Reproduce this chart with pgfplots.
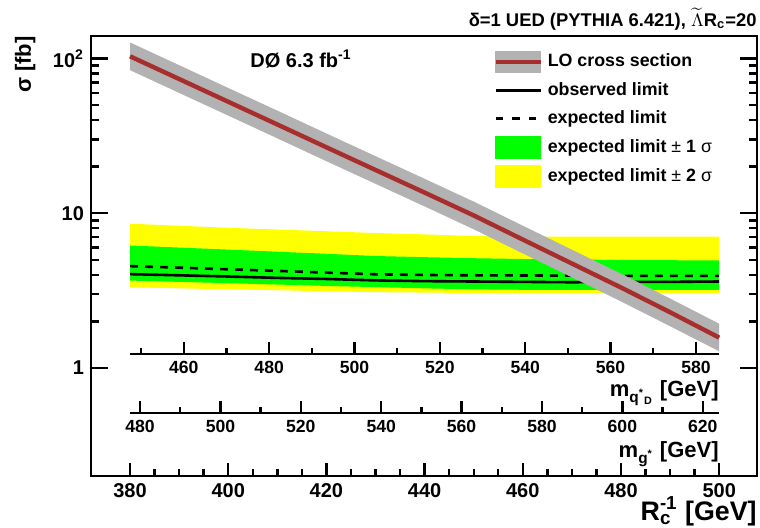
\documentclass[border=0pt]{standalone}
\usepackage{pgfplots}
\pgfplotsset{compat=1.18}
\usepackage{pgfplotstable}
\usetikzlibrary{calc}
\usepackage{fontspec}
\setmainfont{Liberation Sans}

\definecolor{lored}{RGB}{168,45,45}
\definecolor{logray}{RGB}{178,178,178}
\definecolor{onesig}{RGB}{0,255,0}
\definecolor{twosig}{RGB}{255,255,0}

% LO cross section of the UED signal vs 1/R_c
\pgfplotstableread{
R    lo
380  103.5
390  73.8
400  52.6
410  37.5
420  26.7
430  19.05
440  13.6
450  9.68
460  6.76
470  4.73
480  3.31
490  2.29
500  1.57
}\lotable

% observed and expected 95% CL limits
\pgfplotstableread{
R    expl  obsl
380  4.55  4.04
390  4.45  3.97
400  4.34  3.90
410  4.24  3.82
420  4.13  3.76
430  4.03  3.68
440  3.99  3.64
450  3.97  3.62
460  3.96  3.60
470  3.95  3.58
480  3.94  3.60
490  3.94  3.60
500  3.94  3.62
}\limtable

\newcommand{\ptsize}[1]{\fontsize{#1}{1.2\dimexpr#1\relax}\selectfont\bfseries}

\begin{document}
\begin{tikzpicture}
\begin{axis}[
  name=main,
  width=333pt, height=220pt, scale only axis,
  xmin=372.05, xmax=507.7,
  ymode=log, ymin=0.2, ymax=140,
  axis line style={line width=1.2pt},
  tick style={line width=1.2pt, black},
  tick align=inside,
  xtick={380,400,...,500}, minor x tick num=3,
  xtick pos=left, ytick pos=both,
  ytick={1,10,100}, yticklabels={1,10,10\textsuperscript{2}},
  x tick style={/pgfplots/major tick length=6.5pt, /pgfplots/minor tick length=3.5pt},
  y tick style={/pgfplots/major tick length=8.5pt, /pgfplots/minor tick length=4pt},
  /pgf/number format/assume math mode=true,
  /pgf/number format/set thousands separator={},
  every tick label/.append style={font=\ptsize{10pt}},
  xlabel={R\rlap{\textsubscript{c}}\textsuperscript{-1} [GeV]},
  xlabel style={at={(axis description cs:1,0)}, anchor=base east,
    inner sep=0pt, yshift=-22pt, font=\ptsize{13.4pt}},
  ylabel={σ [fb]},
  ylabel style={at={(axis description cs:-0.099,1)}, anchor=east,
    inner sep=0pt, font=\ptsize{11pt}},
  legend style={draw=none, fill=none, at={(axis description cs:0.6036,0.967)},
    anchor=north west, inner sep=0pt, row sep=3.2pt, column sep=2.5pt,
    font=\ptsize{8.9pt}, nodes={inner sep=0pt}},
  legend cell align=left,
]
% +-2 sigma band of the expected limit
\addplot[fill=twosig, draw=none, forget plot] coordinates {
 (380,8.56)(390,8.30)(400,8.05)(410,7.85)(420,7.65)(430,7.45)(440,7.30)
 (450,7.12)(460,7.05)(470,7.05)(480,7.05)(490,7.05)(500,7.05)
 (500,3.04)(490,3.04)(480,3.04)(470,3.04)(460,3.04)(450,3.05)(440,3.07)
 (430,3.09)(420,3.13)(410,3.18)(400,3.22)(390,3.27)(380,3.32)};
% +-1 sigma band of the expected limit
\addplot[fill=onesig, draw=none, forget plot] coordinates {
 (380,6.19)(390,6.00)(400,5.82)(410,5.64)(420,5.47)(430,5.29)(440,5.20)
 (450,5.12)(460,5.06)(470,5.02)(480,4.99)(490,4.97)(500,4.95)
 (500,3.20)(490,3.20)(480,3.20)(470,3.20)(460,3.20)(450,3.22)(440,3.27)
 (430,3.33)(420,3.39)(410,3.46)(400,3.53)(390,3.60)(380,3.67)};
\addplot[black, line width=1.3pt, dash pattern=on 4pt off 3.5pt, forget plot]
  table[x=R, y=expl] {\limtable};
\addplot[black, line width=1.3pt, forget plot] table[x=R, y=obsl] {\limtable};
% theory uncertainty band and central LO prediction
\addplot[fill=logray, draw=none, forget plot] coordinates {
 (380,127.2)(390,90.7)(400,64.6)(410,46.1)(420,32.8)(430,23.4)(440,16.7)
 (450,11.9)(460,8.31)(470,5.81)(480,4.07)(490,2.81)(500,1.93)
 (500,1.28)(490,1.86)(480,2.69)(470,3.85)(460,5.50)(450,7.88)(440,11.07)
 (430,15.5)(420,21.7)(410,30.5)(400,42.8)(390,60.0)(380,84.2)};
\addplot[lored, line width=2.2pt, forget plot] table[x=R, y=lo] {\lotable};

\addlegendimage{legend image code/.code={
  \fill[logray] (0pt,-5.25pt) rectangle (22.5pt,5.25pt);
  \draw[lored, line width=2.2pt] (0pt,0pt) -- (22.5pt,0pt);}}
\addlegendentry{LO cross section}
\addlegendimage{legend image code/.code={
  \path[draw=none, fill=none] (0pt,-5.5pt) rectangle (22.5pt,5.5pt);
  \draw[black, line width=1.4pt] (0pt,0pt) -- (22.5pt,0pt);}}
\addlegendentry{observed limit}
\addlegendimage{legend image code/.code={
  \path[draw=none, fill=none] (0pt,-5.5pt) rectangle (22.5pt,5.5pt);
  \draw[black, line width=1.4pt, dash pattern=on 3.7pt off 4.6pt] (0pt,0pt) -- (22.5pt,0pt);}}
\addlegendentry{expected limit}
\addlegendimage{legend image code/.code={
  \fill[onesig] (0pt,-5.5pt) rectangle (22.5pt,5.5pt);}}
\addlegendentry{expected limit {\mdseries ±} 1 {\mdseries σ}}
\addlegendimage{legend image code/.code={
  \fill[twosig] (0pt,-5.5pt) rectangle (22.5pt,5.5pt);}}
\addlegendentry{expected limit {\mdseries ±} 2 {\mdseries σ}}

\node[anchor=base west, inner sep=0pt, font=\ptsize{10pt}]
  at (axis description cs:0.2387,0.9295) {DØ 6.3 fb\textsuperscript{-1}};
\end{axis}

% model and parameters, above the frame at the right
\node[anchor=base east, inner sep=0pt, font=\ptsize{9.2pt}]
  at ($(main.north east)+(0,5pt)$)
  {δ=1 UED (PYTHIA 6.421), $\widetilde{\Lambda}$R\textsubscript{c}=20};

% secondary scale: excited quark mass
\begin{axis}[
  at={($(main.south west)+(0,60.85pt)$)}, anchor=south west,
  width=333pt, height=20pt, scale only axis,
  xmin=438.26, xmax=594.3, ymin=0, ymax=1,
  hide y axis, axis x line*=bottom, x axis line style={draw=none},
  tick align=inside,
  tick style={line width=1.2pt, black},
  major tick length=6pt, minor tick length=3pt,
  xtick={460,480,...,580}, minor xtick={450,470,...,570},
  /pgf/number format/assume math mode=true,
  every tick label/.append style={font=\ptsize{8.8pt}},
  xlabel={m\textsubscript{q\textsuperscript{*}\textsubscript{D}} [GeV]},
  xlabel style={at={(axis description cs:0.943,0)}, anchor=base east,
    inner sep=0pt, yshift=-21.2pt, font=\ptsize{11pt}},
]
\draw[line width=1.2pt] (axis cs:447.4,0) -- (axis cs:585.4,0);
\end{axis}

% secondary scale: excited gluon mass
\begin{axis}[
  at={($(main.south west)+(0,31.35pt)$)}, anchor=south west,
  width=333pt, height=20pt, scale only axis,
  xmin=467.79, xmax=633.5, ymin=0, ymax=1,
  hide y axis, axis x line*=bottom, x axis line style={draw=none},
  tick align=inside,
  tick style={line width=1.2pt, black},
  major tick length=6pt, minor tick length=3pt,
  xtick={480,500,...,620}, minor xtick={490,510,...,610},
  /pgf/number format/assume math mode=true,
  every tick label/.append style={font=\ptsize{8.8pt}},
  xlabel={m\textsubscript{g\textsuperscript{*}} [GeV]},
  xlabel style={at={(axis description cs:0.943,0)}, anchor=base east,
    inner sep=0pt, yshift=-22.2pt, font=\ptsize{11pt}},
]
\draw[line width=1.2pt] (axis cs:477.5,0) -- (axis cs:624.1,0);
\end{axis}

\pgfresetboundingbox
\useasboundingbox ($(main.south west)+(-45.5pt,-25.5pt)$) rectangle ($(main.north east)+(1.5pt,18pt)$);
\end{tikzpicture}
\end{document}
